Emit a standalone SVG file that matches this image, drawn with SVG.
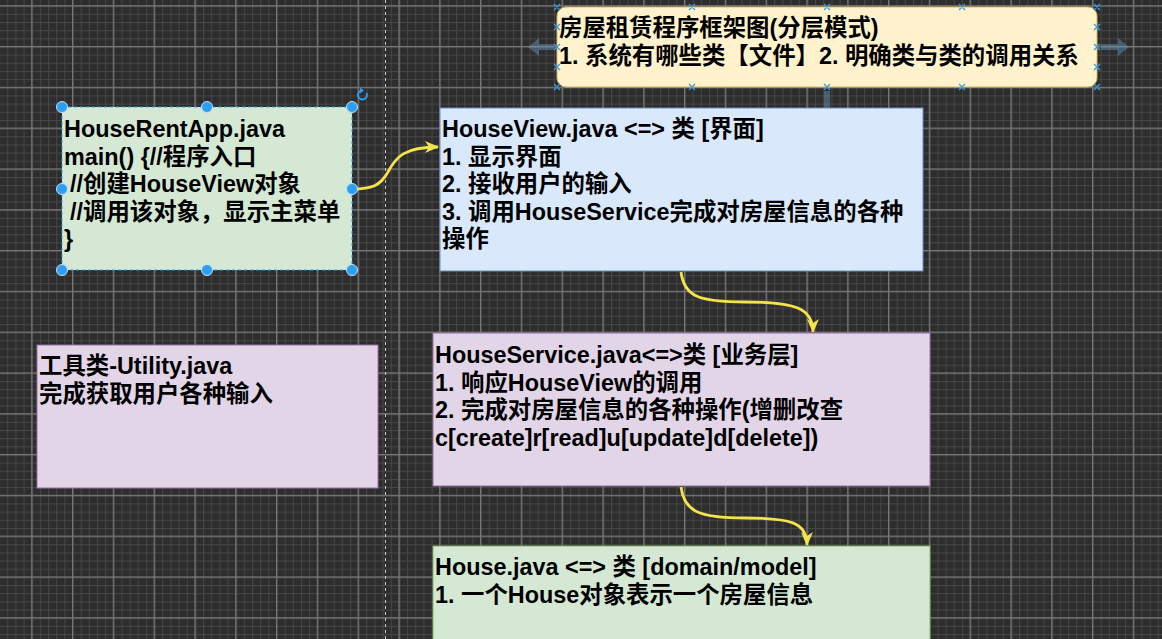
<svg xmlns="http://www.w3.org/2000/svg" width="1162" height="639" viewBox="0 0 1162 639">
<style>
.t{font-family:"Liberation Sans","Noto Sans CJK SC",sans-serif;font-size:23.4px;font-weight:bold;fill:#000}
.conn{fill:none;stroke:#f3e34c;stroke-width:2.8}
.h{fill:#2e9ff0;stroke:#bfe3ff;stroke-width:1}
.cp{stroke:#3e9ad6;stroke-width:1.3;fill:none}
.hov{fill:#6a9cc2;opacity:0.45}
</style>
<defs>
<pattern id="minor" width="8.16" height="8.16" patternUnits="userSpaceOnUse" x="31.7" y="5.7">
<rect width="8.16" height="1" fill="#474747"/><rect width="1" height="8.16" fill="#474747"/>
</pattern>
<pattern id="major" width="40.8" height="40.8" patternUnits="userSpaceOnUse" x="31.2" y="5.2">
<rect width="40.8" height="1.3" fill="#777"/><rect width="1.3" height="40.8" fill="#777"/>
</pattern>
<marker id="arr" viewBox="0 0 14 12" refX="13" refY="6" markerWidth="14" markerHeight="12" markerUnits="userSpaceOnUse" orient="auto">
<path d="M0,0 L14,6 L0,12 L4,6 Z" fill="#f3e34c"/>
</marker>
</defs>
<rect width="1162" height="639" fill="#2d2d2d"/>
<rect width="1162" height="639" fill="url(#minor)"/>
<rect width="1162" height="639" fill="url(#major)"/>
<line x1="385.5" y1="0" x2="385.5" y2="639" stroke="#c8c8c8" stroke-width="1" stroke-dasharray="3 3"/>

<g id="title">
<rect x="557" y="7" width="540" height="80" rx="9" fill="#fff2cc" stroke="#d6b656" stroke-width="1"/>
<text class="t" x="559" y="36">房屋租赁程序框架图(分层模式)</text>
<text class="t" x="559" y="63.6">1. 系统有哪些类【文件】2. 明确类与类的调用关系</text>
<g class="cp">
<path d="M554,4l6,6M560,4l-6,6M689,4l6,6M695,4l-6,6M824,4l6,6M830,4l-6,6M959,4l6,6M965,4l-6,6M1094,4l6,6M1100,4l-6,6"/>
<path d="M554,84l6,6M560,84l-6,6M689,84l6,6M695,84l-6,6M824,84l6,6M830,84l-6,6M959,84l6,6M965,84l-6,6M1094,84l6,6M1100,84l-6,6"/>
<path d="M554,24l6,6M560,24l-6,6M554,44l6,6M560,44l-6,6M554,64l6,6M560,64l-6,6"/>
<path d="M1094,24l6,6M1100,24l-6,6M1094,44l6,6M1100,44l-6,6M1094,64l6,6M1100,64l-6,6"/>
</g>
<polygon class="hov" points="528,47 539,38 539,44 554,44 554,50 539,50 539,56"/>
<polygon class="hov" points="1129,47 1118,38 1118,44 1101,44 1101,50 1118,50 1118,56"/>
<polygon class="hov" points="827,119 818,108 824,108 824,91 830,91 830,108 836,108"/>
</g>

<g id="connectors">
<path class="conn" d="M352,189 C372,189 380,186 388,172 C396,157 404,147 438,147" marker-end="url(#arr)"/>
<path class="conn" d="M681,272 C684,296 698,302 745,302 C795,302 813,308 813,332" marker-end="url(#arr)"/>
<path class="conn" d="M681,487 C684,511 698,518 745,518 C790,518 807,522 807,545" marker-end="url(#arr)"/>
</g>

<g id="houseRentApp">
<rect x="62" y="107" width="290" height="163" fill="#d5e8d4" stroke="#29a3f5" stroke-width="1" stroke-dasharray="3 3"/>
<text class="t" x="64" y="137">HouseRentApp.java</text>
<text class="t" x="64" y="164.6">main() {//程序入口</text>
<text class="t" x="70" y="192.2">//创建HouseView对象</text>
<text class="t" x="70" y="219.8">//调用该对象，显示主菜单</text>
<text class="t" x="64" y="247.4">}</text>
<circle class="h" cx="62" cy="107" r="5.5"/><circle class="h" cx="207" cy="107" r="5.5"/><circle class="h" cx="352" cy="107" r="5.5"/>
<circle class="h" cx="62" cy="189" r="5.5"/><circle class="h" cx="352" cy="189" r="5.5"/>
<circle class="h" cx="62" cy="270" r="5.5"/><circle class="h" cx="207" cy="270" r="5.5"/><circle class="h" cx="352" cy="270" r="5.5"/>
<path d="M366.5,93 A4.5,4.5 0 1 1 362,90.5" fill="none" stroke="#2e9ff0" stroke-width="1.8"/>
<path d="M360,87.5 L364,90.5 L360,93.5 Z" fill="#2e9ff0"/>
</g>

<g id="houseView">
<rect x="440" y="108" width="483" height="163" fill="#dae8fc" stroke="#6c8ebf" stroke-width="1"/>
<text class="t" x="442" y="137">HouseView.java &lt;=&gt; 类 [界面]</text>
<text class="t" x="442" y="164.6">1. 显示界面</text>
<text class="t" x="442" y="192.2">2. 接收用户的输入</text>
<text class="t" x="442" y="219.8">3. 调用HouseService完成对房屋信息的各种</text>
<text class="t" x="442" y="247.4">操作</text>
</g>

<g id="utility">
<rect x="37" y="345" width="341" height="143" fill="#e1d5e7" stroke="#9673a6" stroke-width="1"/>
<text class="t" x="39" y="374">工具类-Utility.java</text>
<text class="t" x="39" y="401.6">完成获取用户各种输入</text>
</g>

<g id="houseService">
<rect x="433" y="333" width="497" height="153" fill="#e1d5e7" stroke="#9673a6" stroke-width="1"/>
<text class="t" x="435" y="363">HouseService.java&lt;=&gt;类 [业务层]</text>
<text class="t" x="435" y="390.6">1. 响应HouseView的调用</text>
<text class="t" x="435" y="418.2">2. 完成对房屋信息的各种操作(增删改查</text>
<text class="t" x="435" y="445.8">c[create]r[read]u[update]d[delete])</text>
</g>

<g id="house">
<rect x="433" y="546" width="497" height="110" fill="#d5e8d4" stroke="#82b366" stroke-width="1"/>
<text class="t" x="435" y="575">House.java &lt;=&gt; 类 [domain/model]</text>
<text class="t" x="435" y="602.6">1. 一个House对象表示一个房屋信息</text>
</g>
</svg>
